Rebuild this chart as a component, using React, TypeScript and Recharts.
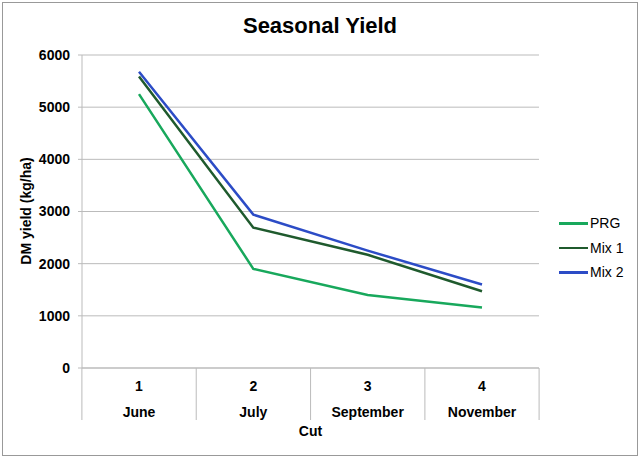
import React from 'react';
import { LineChart, Line, XAxis, YAxis, CartesianGrid, Legend, Label } from 'recharts';

const cuts = ['1', '2', '3', '4'];
const months = ['June', 'July', 'September', 'November'];
const prg = [5250, 1900, 1400, 1160];
const mix1 = [5590, 2690, 2170, 1470];
const mix2 = [5680, 2940, 2250, 1600];
const yTicks = [0, 1000, 2000, 3000, 4000, 5000, 6000];

const SERIES = [
  { key: 'prg', name: 'PRG', color: '#18a85c' },
  { key: 'mix1', name: 'Mix 1', color: '#1f5a2d' },
  { key: 'mix2', name: 'Mix 2', color: '#2c4cc6' },
];

const data = cuts.map((c, i) => ({
  cut: c,
  month: months[i],
  prg: prg[i],
  mix1: mix1[i],
  mix2: mix2[i],
}));

const FONT = '"Liberation Sans", Arial, sans-serif';
const HALF_BAND = 57.1;
const LEGEND_W = 80;

// two-row category tick with separators like the excel original
const CutTick = (props: any) => {
  const { x, y, payload, index } = props;
  const last = index === cuts.length - 1;
  return (
    <g>
      <line x1={x - HALF_BAND} y1={y} x2={x - HALF_BAND} y2={y + 52} stroke="#bbb" />
      {last && <line x1={x + HALF_BAND} y1={y} x2={x + HALF_BAND} y2={y + 52} stroke="#bbb" />}
      <text x={x} y={y + 23} textAnchor="middle" fontFamily={FONT} fontWeight="bold" fontSize={14} fill="#000">
        {payload.value}
      </text>
      <text x={x} y={y + 49} textAnchor="middle" fontFamily={FONT} fontWeight="bold" fontSize={14} fill="#000">
        {months[index]}
      </text>
    </g>
  );
};

const LegendContent = () => (
  <div style={{ fontFamily: FONT, fontSize: 14, color: '#000' }}>
    {SERIES.map(s => (
      <div key={s.key} style={{ display: 'flex', alignItems: 'center', height: 24.5 }}>
        <span style={{ display: 'inline-block', width: 29, height: 2.5, background: s.color, marginRight: 2 }} />
        <span>{s.name}</span>
      </div>
    ))}
  </div>
);

const App: React.FC = () => {
  return (
    <div style={{ position: 'fixed', left: 0, top: 0, width: 640, height: 457, background: '#fff' }}>
      <div
        style={{
          position: 'absolute', left: 2, top: 2, width: 636, height: 454,
          border: '1px solid #999', boxSizing: 'border-box',
        }}
      />
      <div
        style={{
          position: 'absolute', left: 0, top: 13, width: 640, lineHeight: '26px',
          textAlign: 'center', fontFamily: FONT, fontWeight: 'bold', fontSize: 22,
        }}
      >
        Seasonal Yield
      </div>
      <div style={{ position: 'absolute', left: 0, top: 0 }}>
        <LineChart width={640} height={457} data={data} margin={{ top: 55, right: 101 - LEGEND_W, left: 0, bottom: 0 }}>
          <CartesianGrid vertical={false} stroke="#bbb" />
          <XAxis
            dataKey="cut"
            padding={{ left: 57, right: 57 }}
            height={89}
            axisLine={{ stroke: '#bbb' }}
            tickLine={false}
            tickSize={0}
            tickMargin={0}
            tick={<CutTick />}
            interval={0}
          >
            <Label
              content={({ viewBox }: any) => (
                <text
                  x={viewBox.x + viewBox.width / 2}
                  y={viewBox.y + 68}
                  textAnchor="middle"
                  fontFamily={FONT}
                  fontWeight="bold"
                  fontSize={14}
                >
                  Cut
                </text>
              )}
            />
          </XAxis>
          <YAxis
            width={82}
            domain={[0, 6000]}
            ticks={yTicks}
            interval={0}
            axisLine={{ stroke: '#bbb' }}
            tickLine={{ stroke: '#bbb' }}
            tickSize={4}
            tickMargin={8}
            tick={{ fontFamily: FONT, fontWeight: 'bold', fontSize: 14, fill: '#000' }}
          >
            <Label
              content={() => (
                <text
                  x={31}
                  y={211}
                  transform="rotate(-90 31 211)"
                  textAnchor="middle"
                  fontFamily={FONT}
                  fontWeight="bold"
                  fontSize={14}
                >
                  DM yield (kg/ha)
                </text>
              )}
            />
          </YAxis>
          <Legend
            content={<LegendContent />}
            layout="vertical"
            align="right"
            verticalAlign="middle"
            wrapperStyle={{ position: 'absolute', left: 559, top: 211, width: LEGEND_W, right: 'auto' }}
          />
          {SERIES.map(s => (
            <Line
              key={s.key}
              type="linear"
              dataKey={s.key}
              name={s.name}
              stroke={s.color}
              strokeWidth={2.5}
              dot={false}
              isAnimationActive={false}
            />
          ))}
        </LineChart>
      </div>
    </div>
  );
};

export default App;
